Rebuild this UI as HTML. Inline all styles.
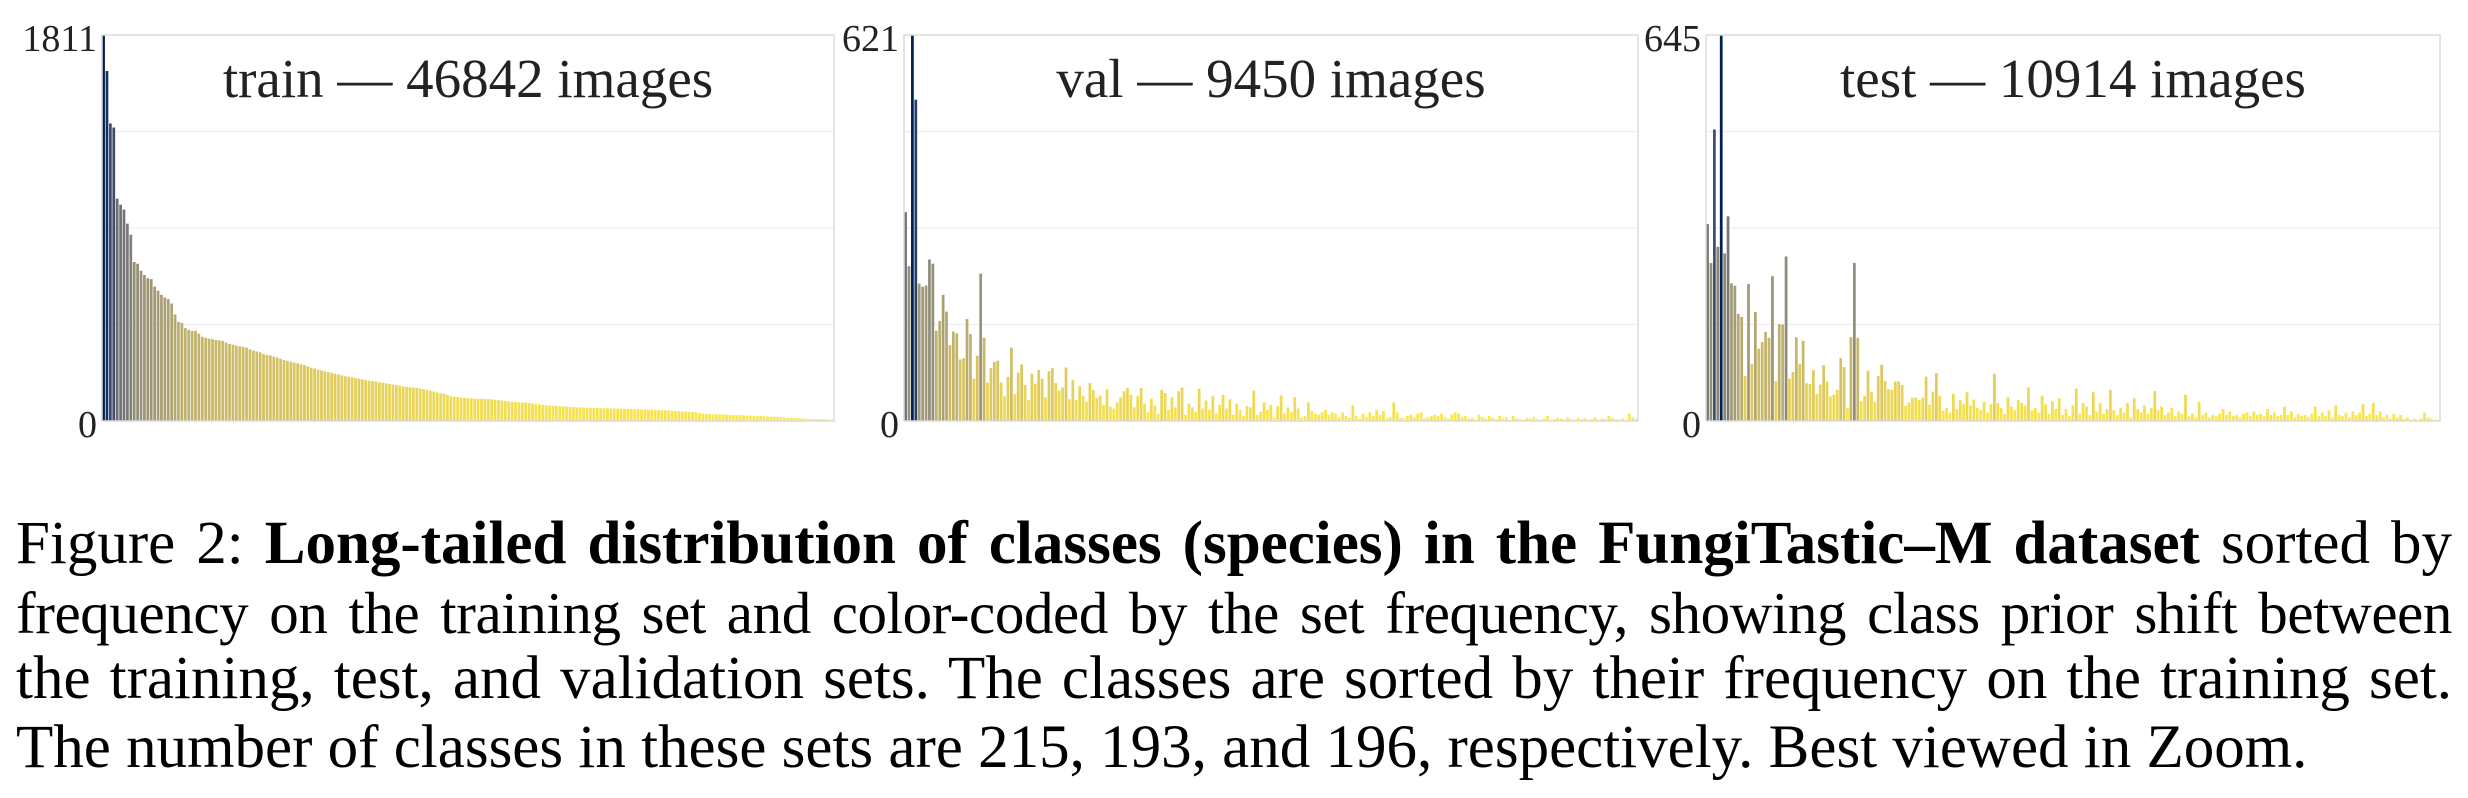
<!DOCTYPE html>
<html><head><meta charset="utf-8">
<style>
html,body{margin:0;padding:0;background:#fff;}
#wrap{position:relative;width:2468px;height:798px;overflow:hidden;background:#fff;}
svg{position:absolute;left:0;top:0;}
.cap{position:absolute;left:16px;width:2436px;font-family:"Liberation Serif",serif;font-size:61px;line-height:68px;color:#000;text-align:justify;text-align-last:justify;white-space:nowrap;}
.cap.last{text-align-last:left;text-align:left;}
</style></head>
<body>
<div id="wrap">
<svg id="chart" width="2468" height="500" viewBox="0 0 2468 500"></svg>
<div class="cap" style="top:510px">Figure 2: <b>Long-tailed distribution of classes (species) in the FungiTastic–M dataset</b> sorted by</div>
<div class="cap" style="top:579px;font-size:59px;letter-spacing:-0.4px">frequency on the training set and color-coded by the set frequency, showing class prior shift between</div>
<div class="cap" style="top:645px">the training, test, and validation sets. The classes are sorted by their frequency on the training set.</div>
<div class="cap last" style="top:714px">The number of classes in these sets are 215, 193, and 196, respectively. Best viewed in Zoom.</div>
</div>
<script>
const panelNames = ["train","val","test"];
const panelTitles = ["train — 46842 images","val — 9450 images","test — 10914 images"];
const panelMax = [1811, 621, 645];
const trainValues = [
1811,1642,1396,1377,1043,1015,992,926,874,746,
738,705,685,670,666,631,611,592,580,572,
551,500,465,460,436,428,423,423,410,395,
390,386,384,380,378,376,368,362,358,354,
350,348,344,336,330,326,322,314,310,308,
302,298,292,286,282,278,274,271,266,262,
256,250,246,240,237,233,229,226,222,218,
214,210,208,205,202,198,195,192,189,186,
185,182,180,177,174,170,168,165,162,160,
158,157,155,152,150,146,142,138,134,130,
128,122,116,114,112,110,108,107,106,105,
104,104,103,103,102,100,98,96,94,92,
90,89,88,87,86,84,82,80,78,76,
74,72,71,70,69,68,67,66,65,64,
63,63,62,62,61,61,60,60,60,59,
59,58,58,57,57,56,55,55,54,54,
53,53,52,51,50,50,49,48,47,46,
45,44,43,42,42,36,34,33,33,32,
32,31,31,30,29,28,28,27,27,26,
25,24,23,23,22,21,20,20,19,18,
17,16,15,14,13,12,11,11,10,9,
9,8,8,7,6];
const valValues = [
336,249,621,517,221,216,218,260,253,145,
161,203,176,122,144,141,99,101,164,140,
68,105,237,134,62,85,95,97,62,40,
71,118,43,78,91,58,34,76,60,82,
68,38,80,85,61,49,54,86,35,66,
34,56,40,31,61,50,37,41,26,51,
23,20,30,38,48,53,42,22,40,53,
28,14,36,25,12,50,45,18,38,22,
48,54,10,28,22,15,52,20,33,18,
40,12,26,42,20,35,10,28,18,8,
24,22,49,10,15,30,18,26,5,24,
41,12,22,14,38,20,5,8,30,16,
12,10,14,18,10,14,12,6,14,8,
5,25,8,4,12,6,14,8,18,10,
16,5,6,30,14,5,4,8,10,6,
12,14,4,6,8,10,8,12,6,4,
10,14,12,6,8,4,5,2,10,6,
4,8,5,3,8,4,6,2,8,4,
3,2,5,4,6,3,2,4,8,2,
3,5,4,2,6,3,2,5,3,4,
2,3,6,2,4,3,8,5,3,2,
4,2,12,6,3];
const testValues = [
329,264,487,291,645,280,342,230,226,179,
174,75,229,95,182,121,132,149,139,242,
67,162,161,275,71,82,140,95,134,63,
62,85,45,61,93,66,41,44,52,105,
90,22,140,264,139,33,42,84,49,32,
75,94,67,53,52,66,66,60,25,31,
39,39,35,39,74,27,49,80,42,17,
22,14,45,20,35,28,48,26,36,22,
18,32,14,28,79,30,22,12,40,24,
18,35,30,26,56,18,22,14,42,28,
12,33,20,38,10,20,8,26,54,12,
30,24,10,48,16,30,12,20,52,18,
10,22,14,30,6,38,20,14,26,12,
22,50,18,24,10,14,22,8,16,12,
44,8,12,6,32,10,14,6,10,8,
12,20,10,16,8,10,6,12,14,8,
16,10,12,8,20,10,14,8,10,24,
10,16,6,12,8,10,6,12,24,8,
14,8,18,6,26,10,8,14,6,16,
10,14,28,8,12,30,10,16,6,10,
4,12,6,10,4,6,2,4,2,4,
14,6,4,2,2];
const seriesValues = [trainValues, valValues, testValues];

const NS = "http://www.w3.org/2000/svg";
const svg = document.getElementById("chart");
const layouts = [
  {left:102, right:834, top:35, bottom:421},
  {left:904, right:1638, top:35, bottom:421},
  {left:1706, right:2440, top:35, bottom:421}
];
const stops = [[0,32,77],[18,53,112],[59,73,108],[87,93,109],[112,113,115],[138,135,121],[166,157,117],[196,181,108],[228,207,91],[255,234,70]];
function cividis(t){
  t = Math.max(0, Math.min(1, t));
  const p = t*(stops.length-1), i = Math.min(Math.floor(p), stops.length-2), f = p-i;
  const c = stops[i].map((v,k)=>Math.round(v+(stops[i+1][k]-v)*f));
  return "rgb("+c.join(",")+")";
}
function mk(tag, attrs){ const e=document.createElementNS(NS,tag); for(const k in attrs) e.setAttribute(k, attrs[k]); return e; }

panelNames.forEach((name, p) => {
  const L = layouts[p], vals = seriesValues[p], ymax = panelMax[p];
  const n = trainValues.length;
  const slot = (L.right - L.left) / n;
  const xScale = i => L.left + i*slot;
  const yScale = v => L.bottom - (v/ymax)*(L.bottom - L.top);
  const g = mk("g", {});
  
  
  svg.appendChild(g);
  for (let q=1; q<4; q++){
    const y = yScale(ymax*q/4);
    const gl = mk("line", {x1:L.left, x2:L.right, y1:y, y2:y, stroke:"#f0f0f0", "stroke-width":1.5});
    
    
    g.appendChild(gl);
  }
  vals.forEach((v, i) => {
    if (v <= 0) return;
    const y = yScale(v);
    const r = mk("rect", {x: xScale(i)+0.2, y: y, width: slot*0.8, height: L.bottom - y, fill: cividis(1 - v/ymax)});
    
    
    g.appendChild(r);
  });
  const fr = mk("rect", {x:L.left, y:L.top, width:L.right-L.left, height:L.bottom-L.top, fill:"none", stroke:"#dcdcdc", "stroke-width":1.5});
  
  
  g.appendChild(fr);
  const t1 = mk("text", {x:L.left-5, y:51, "text-anchor":"end", "font-family":"Liberation Serif, serif", "font-size":38, fill:"#222"});
  t1.textContent = String(ymax);
  
  
  g.appendChild(t1);
  const t0 = mk("text", {x:L.left-5, y:437, "text-anchor":"end", "font-family":"Liberation Serif, serif", "font-size":38, fill:"#222"});
  t0.textContent = "0";
  
  
  g.appendChild(t0);
  const tt = mk("text", {x:(L.left+L.right)/2, y:97, "text-anchor":"middle", "font-family":"Liberation Serif, serif", "font-size":55, fill:"#222"});
  tt.textContent = panelTitles[p];
  
  
  g.appendChild(tt);
});
</script>
</body></html>
